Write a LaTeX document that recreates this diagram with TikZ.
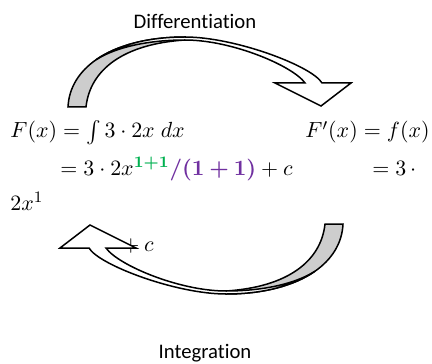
\documentclass[tikz,border=0pt]{standalone}
\usepackage{amsmath}
\usepackage{bm}
\usepackage[no-math]{fontspec}
\newfontfamily\labelfont[Ligatures=NoCommon]{Carlito}
\definecolor{wgreen}{HTML}{00B050}
\definecolor{wpurple}{HTML}{7030A0}
\definecolor{backgray}{RGB}{205,205,205}
\tikzset{
  mtext/.style={anchor=base west, inner sep=0pt, font=\fontsize{10.9}{13}\selectfont},
  ltext/.style={anchor=base, inner sep=0pt, font=\labelfont\fontsize{10.35}{12.4}\selectfont},
  band/.style={draw=black, line width=0.75pt, line join=miter},
}
\newcommand\mycurvedarrow{%
  % back (gray) face of the ribbon
  \path[band, fill=backgray] (68,107) .. controls (68.9,87.65) and (79.1,71.6) .. (96.1,59.7)
     .. controls (117,45.2) and (148.15,37) .. (185,37) -- (185,40)
     .. controls (123,44) and (90,70) .. (86,107) -- cycle;
  % front (white) face with the arrow head
  \path[band, fill=white] (96.1,59.7) .. controls (117,45.2) and (148.15,37) .. (185,37)
     .. controls (235,37) and (312,66) .. (322,83) -- (351,83) -- (321,106) -- (275,83) -- (305,83)
     .. controls (293,66) and (232,40) .. (185,40)
     .. controls (150,40) and (117,46.5) .. (96.1,59.7) -- cycle;
}
\begin{document}
\begin{tikzpicture}[x=0.5pt, y=-0.5pt]
  \useasboundingbox (0,0) rectangle (432,363);
  % labels
  \node[ltext] (diff) at (195,28.5) {Differentiation};
  \node[ltext] (integ) at (205,358) {Integration};
  % formulas
  \node[mtext] (l1) at (10,138) {$F(x) = \int 3\cdot 2x\;dx$};
  \node[mtext, anchor=base east] (r1) at (430,138) {$F'(x) = f(x)$};
  \node[mtext] (l2) at (60,175) {$= 3\cdot 2x^{\color{wgreen}\bm{1+1}}{\color{wpurple}\bm{/(1+1)}} + c$};
  \node[mtext] (r2) at (372,175) {$= 3\,\cdot$};
  \node[mtext] (l3) at (10,210) {$2x^1$};
  \node[mtext] (l4) at (117,251) {${}+c$};
  % top arrow (differentiation)
  \begin{scope}
    \mycurvedarrow
  \end{scope}
  % bottom arrow (integration), same shape turned half round
  \begin{scope}[shift={(411,331)}, xscale=-1, yscale=-1]
    \mycurvedarrow
  \end{scope}
\end{tikzpicture}
\end{document}
